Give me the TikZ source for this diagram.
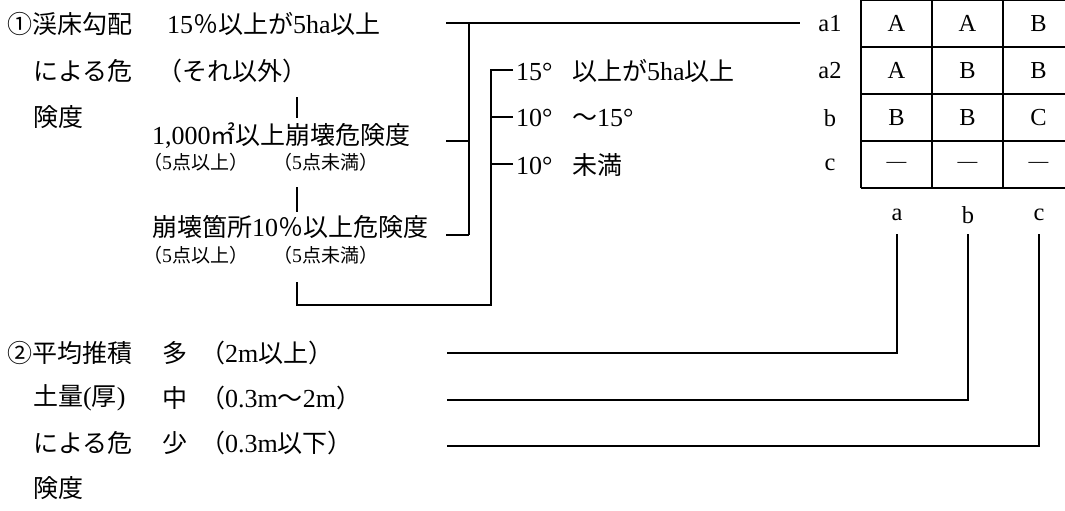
\documentclass[tikz,border=0pt]{standalone}
\usepackage{fontspec}
\setmainfont{Liberation Serif}[Scale=1.04]
\newfontfamily\jpfont{Noto Sans CJK JP}
\newcommand{\jp}[1]{{\jpfont #1}}
\newcommand{\zpct}{\makebox[25pt]{\jp{％}}}
\begin{document}
\begin{tikzpicture}[x=1pt,y=-1pt,
  ln/.style={line width=1.8pt},
  txt/.style={anchor=west, inner sep=0pt, font=\fontsize{25}{29}\selectfont},
  sm/.style={anchor=west, inner sep=0pt, font=\fontsize{19}{22}\selectfont},
  lab/.style={inner sep=0pt, font=\fontsize{23.5}{27}\selectfont}]
\useasboundingbox (0,0) rectangle (1065,511);

% ---- section 1 texts
\node[txt] (t1) at (7,24) {\jp{①渓床勾配}};
\node[txt] (t2) at (33,71) {\jp{による危}};
\node[txt] (t3) at (33,117) {\jp{険度}};
\node[txt] (s1) at (167,24) {15\zpct\jp{以上が}5ha\jp{以上}};
\node[txt] (s2) at (157,71) {\jp{（それ以外）}};
\node[txt] (k1) at (152,136) {1,000\jp{㎡以上崩壊危険度}};
\node[sm] (k1a) at (143,162) {\jp{（}5\jp{点以上）}};
\node[sm] (k1b) at (273,162) {\jp{（}5\jp{点未満）}};
\node[txt] (k2) at (152,227) {\jp{崩壊箇所}10\zpct\jp{以上危険度}};
\node[sm] (k2a) at (143,255) {\jp{（}5\jp{点以上）}};
\node[sm] (k2b) at (273,255) {\jp{（}5\jp{点未満）}};

\node[txt] (d1) at (516,71) {\makebox[56pt][l]{15°}\jp{以上が}5ha\jp{以上}};
\node[txt] (d2) at (516,118) {\makebox[56pt][l]{10°}\jp{～}15°};
\node[txt] (d3) at (516,165) {\makebox[56pt][l]{10°}\jp{未満}};

% ---- row labels
\node[lab] (r1) at (830,24) {a1};
\node[lab] (r2) at (830,71) {a2};
\node[lab] (r3) at (830,118) {b};
\node[lab] (r4) at (830,165) {c};

% ---- table
\foreach \y in {0,47,94,141,188} \draw[ln] (861,\y) -- (1065,\y);
\foreach \x in {861,932,1003} \draw[ln] (\x,0) -- (\x,188);
\node[lab] (c11) at (896.5,23.5) {A};
\node[lab] (c12) at (967.5,23.5) {A};
\node[lab] (c13) at (1038.5,23.5) {B};
\node[lab] (c21) at (896.5,70.5) {A};
\node[lab] (c22) at (967.5,70.5) {B};
\node[lab] (c23) at (1038.5,70.5) {B};
\node[lab] (c31) at (896.5,117.5) {B};
\node[lab] (c32) at (967.5,117.5) {B};
\node[lab] (c33) at (1038.5,117.5) {C};
\node[lab] (c41) at (896.5,164.5) {\fontsize{19}{20}\selectfont —};
\node[lab] (c42) at (967.5,164.5) {\fontsize{19}{20}\selectfont —};
\node[lab] (c43) at (1038.5,164.5) {\fontsize{19}{20}\selectfont —};

\node[lab] (ca) at (897,215) {a};
\node[lab] (cb) at (968,215) {b};
\node[lab] (cc) at (1039,215) {c};

% ---- section 2 texts
\node[txt] (p1) at (7,353) {\jp{②平均推積}};
\node[txt] (p2) at (33,398) {\jp{土量}(\jp{厚})};
\node[txt] (p3) at (33,443) {\jp{による危}};
\node[txt] (p4) at (33,488) {\jp{険度}};
\node[txt] (q1) at (162,353) {\jp{多}};
\node[txt] (q2) at (162,398) {\jp{中}};
\node[txt] (q3) at (162,443) {\jp{少}};
\node[txt] (m1) at (200,353) {\jp{（}2m\jp{以上）}};
\node[txt] (m2) at (200,398) {\jp{（}0.3m\jp{～}2m\jp{）}};
\node[txt] (m3) at (200,443) {\jp{（}0.3m\jp{以下）}};

% ---- coordinates
\coordinate (L1s) at (446,23);
\coordinate (L1e) at (800,23);
\coordinate (B1t) at (469,23);
\coordinate (B1b) at (469,235);
\coordinate (k1e) at (446,141);
\coordinate (k2e) at (446,235);
\coordinate (T1) at (513,70);
\coordinate (T2) at (513,117);
\coordinate (T3) at (513,164);
\coordinate (B2b) at (491,305);
\coordinate (V0) at (297,282);
\coordinate (v1a) at (297,97);
\coordinate (v1b) at (297,118);
\coordinate (v2a) at (297,187);
\coordinate (v2b) at (297,212);
\coordinate (e1) at (447,353);
\coordinate (e2) at (447,400);
\coordinate (e3) at (447,446);
\coordinate (ua) at (897,234);
\coordinate (ub) at (968,234);
\coordinate (uc) at (1039,234);

% ---- connectors
\draw[ln] (L1s) -- (L1e);
\draw[ln] (B1t) -- (B1b);
\draw[ln] (k1e) -- (k1e -| B1t);
\draw[ln] (k2e) -- (B1b);
\draw[ln] (T1) -| (B2b) -| (V0);
\draw[ln] (T2) -- (T2 -| B2b);
\draw[ln] (T3) -- (T3 -| B2b);
\draw[ln] (v1a) -- (v1b);
\draw[ln] (v2a) -- (v2b);
\draw[ln] (e1) -| (ua);
\draw[ln] (e2) -| (ub);
\draw[ln] (e3) -| (uc);
\end{tikzpicture}
\end{document}
